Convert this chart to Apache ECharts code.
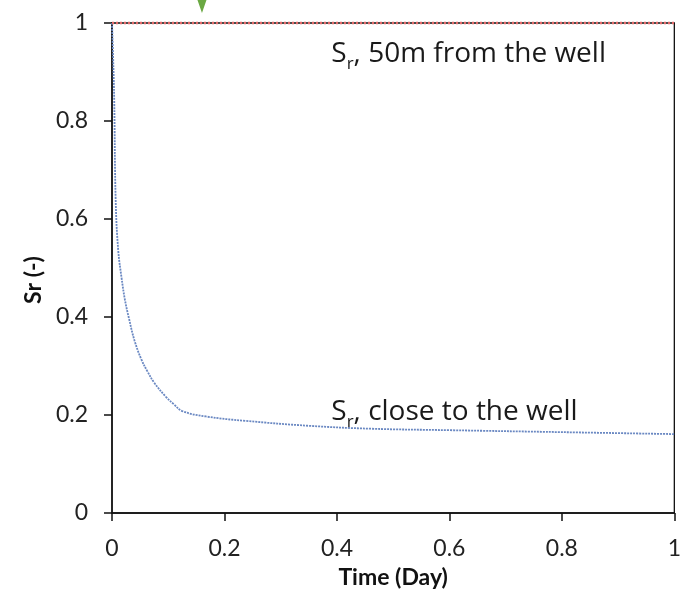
<!DOCTYPE html>
<html>
<head>
<meta charset="utf-8">
<script src="https://cdn.jsdelivr.net/npm/echarts@6/dist/echarts.min.js"></script>
<style>
  html, body { margin: 0; padding: 0; background: #fff; }
  #chart { width: 684px; height: 594px; }
</style>
</head>
<body>
<div id="chart"></div>
<script>
// Saturation near the well (drains quickly, then levels off)
const timeNear = [0, 0.002, 0.004, 0.0065, 0.011, 0.017, 0.023, 0.03, 0.04, 0.052, 0.063, 0.075, 0.096, 0.11, 0.125, 0.167, 0.238, 0.35, 0.46, 0.6, 0.8, 1.0];
const srNear   = [1.0, 0.93, 0.84, 0.64, 0.537, 0.48, 0.435, 0.398, 0.352, 0.314, 0.289, 0.266, 0.237, 0.222, 0.208, 0.197, 0.188, 0.178, 0.172, 0.169, 0.165, 0.161];

// Saturation 50 m away stays fully saturated
const timeFar = [0, 1.0];
const srFar   = [1.0, 1.0];

// Axis ticks
const xTicks = [0, 0.2, 0.4, 0.6, 0.8, 1];
const yTicks = [0, 0.2, 0.4, 0.6, 0.8, 1];

// Annotations
const labelFar  = { coord: [0.39, 0.937], text: '{s|S}{sub|r}{s|, 50m from the well}' };
const labelNear = { coord: [0.39, 0.206], text: '{s|S}{sub|r}{s|, close to the well}' };
const arrowAt   = [0.16, 1.0];

const FONT = 'Lato';
const NOTE_FONT = 'Open Sans';

const chart = echarts.init(document.getElementById('chart'), null, { renderer: 'canvas' });

const richText = {
  s:   { fontFamily: NOTE_FONT, fontSize: 28, color: '#1a1a1a' },
  sub: { fontFamily: NOTE_FONT, fontSize: 17, color: '#1a1a1a', verticalAlign: 'bottom', padding: [20, 0, 0, 0] }
};

function textMark(l) {
  return {
    coord: l.coord,
    symbolSize: 0,
    label: { show: true, position: 'right', distance: 0, formatter: l.text, rich: richText }
  };
}

chart.setOption({
  animation: false,
  backgroundColor: '#fff',
  grid: {
    left: 112, right: 5, top: 23, bottom: 81,
    show: true, borderColor: '#111', borderWidth: 1.3, backgroundColor: 'transparent'
  },
  xAxis: {
    type: 'value', min: xTicks[0], max: xTicks[xTicks.length - 1], interval: 0.2,
    name: 'Time (Day)', nameLocation: 'middle', nameGap: 53,
    nameTextStyle: { fontFamily: FONT, fontSize: 23, fontWeight: 'bold', color: '#111' },
    axisLine: { show: true, onZero: false, lineStyle: { color: '#111', width: 1.5 } },
    axisTick: { show: true, inside: false, length: 8, lineStyle: { color: '#111', width: 1.5 } },
    axisLabel: { margin: 24, fontFamily: FONT, fontSize: 23, color: '#222',
      formatter: v => String(+v.toFixed(1)) },
    splitLine: { show: false }
  },
  yAxis: {
    type: 'value', min: yTicks[0], max: yTicks[yTicks.length - 1], interval: 0.2,
    name: 'Sr (-)', nameLocation: 'middle', nameGap: 58,
    nameTextStyle: { fontFamily: FONT, fontSize: 23, fontWeight: 'bold', color: '#111', padding: [0, 0, 0, -24] },
    axisLine: { show: true, onZero: false, lineStyle: { color: '#111', width: 1.5 } },
    axisTick: { show: true, inside: false, length: 8, lineStyle: { color: '#111', width: 1.5 } },
    axisLabel: { margin: 24, fontFamily: FONT, fontSize: 23, color: '#222',
      formatter: v => String(+v.toFixed(1)) },
    splitLine: { show: false }
  },
  series: [
    {
      name: 'far',
      type: 'line',
      data: timeFar.map((t, i) => [t, srFar[i]]),
      showSymbol: false,
      clip: false,
      lineStyle: { color: '#e36a6a', width: 2.5, type: [2, 2] },
      z: 5,
      markPoint: {
        silent: true,
        data: [
          textMark(labelFar),
          {
            coord: arrowAt,
            symbol: 'path://M0 0 L6 0 L8.5 3 L11 0 L17 0 L8.5 13 Z',
            symbolSize: [18, 26],
            symbolKeepAspect: false,
            symbolOffset: [0, -23],
            itemStyle: { color: '#6aa842' },
            label: { show: false }
          }
        ]
      }
    },
    {
      name: 'near',
      type: 'line',
      data: timeNear.map((t, i) => [t, srNear[i]]),
      showSymbol: false,
      smooth: 0.4,
      lineStyle: { color: '#6a88c2', width: 1.8, type: [2, 1] },
      z: 4,
      markPoint: { silent: true, data: [textMark(labelNear)] }
    }
  ]
});
</script>
</body>
</html>
